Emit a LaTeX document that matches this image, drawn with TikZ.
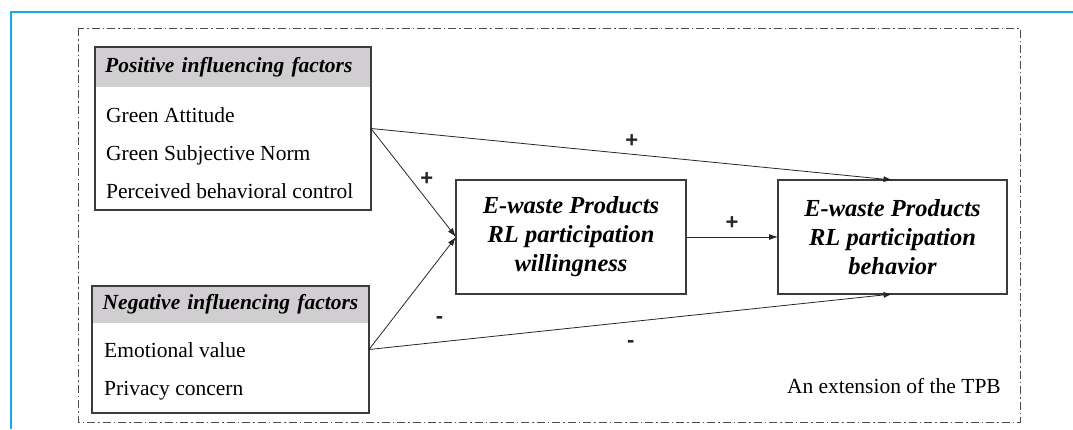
\documentclass[tikz,border=0pt]{standalone}
\usepackage{fontspec}
\setmainfont{Liberation Serif}
\newfontfamily\signfont{Liberation Sans}
\usetikzlibrary{arrows.meta}

\definecolor{framecyan}{RGB}{20,172,236}
\definecolor{headgray}{RGB}{208,206,208}
\definecolor{boxgray}{RGB}{60,60,60}

\begin{document}
\begin{tikzpicture}[
    x=1pt, y=-1pt,
    factor/.style={rectangle, draw=boxgray, line width=1.6pt, anchor=north west, inner sep=0pt, outer sep=0pt, minimum width=276},
    header/.style={rectangle, fill=headgray, anchor=north west, inner xsep=10pt, inner ysep=0pt, text width=256, align=left, minimum width=276, font=\fontsize{21.5}{25}\selectfont\bfseries\itshape},
    item/.style={anchor=base west, inner sep=0pt, font=\fontsize{21.5}{25}\selectfont},
    stage/.style={rectangle, draw=boxgray, line width=1.3pt, align=center, minimum width=230, minimum height=114, inner sep=0pt, outer sep=0pt, font=\fontsize{24.5}{29}\selectfont\bfseries\itshape},
    sign/.style={font=\fontsize{22}{24}\selectfont\signfont\bfseries},
    arrow/.style={-{Latex[length=9pt,width=6pt]}, line width=0.8pt, black!85}
]
    \useasboundingbox (0,0) rectangle (1073,429);

    % page frame and model frame
    \draw[framecyan, line width=2.6pt] (1073,12) -- (11,12) -- (11,429);
    \draw[black!70, line width=0.9pt, dash pattern=on 8pt off 3pt on 1.5pt off 3pt] (78,28) rectangle (1020,422);

    % Positive factors
    \node[header, minimum height=40] (posh) at (95,47) {Positive influencing factors};
    \node[factor, minimum height=163] (pos) at (95,47) {};
    \node[item] (ga) at (106,122) {Green Attitude};
    \node[item] (gsn) at (106,160) {Green Subjective Norm};
    \node[item] (pbc) at (106,198) {Perceived behavioral control};

    % Negative factors
    \node[header, minimum height=37, minimum width=277] (negh) at (92,286) {Negative influencing factors};
    \node[factor, minimum width=277, minimum height=127] (neg) at (92,286) {};
    \node[item] (ev) at (104,357) {Emotional value};
    \node[item] (pc) at (104,395) {Privacy concern};

    % Willingness and behavior
    \node[stage] (will) at (571,237) {E-waste Products\\RL participation\\willingness};
    \node[stage, minimum width=229] (beh) at (892.5,237) {E-waste Products\\RL participation\\behavior};

    \node[anchor=base east, inner sep=0pt, font=\fontsize{21.5}{25}\selectfont] (tpb) at (1001,393) {An extension of the TPB};

    % Paths
    \draw[arrow] (pos.east) -- node[sign, pos=0.465, right=6pt] {+} (will.west);
    \draw[arrow] (pos.east) -- node[sign, pos=0.5, above=3pt] {+} (beh.north);
    \draw[arrow] (neg.east) -- node[sign, pos=0.266, right=40pt] {-} (will.west);
    \draw[arrow] (neg.east) -- node[sign, pos=0.5, below=15pt] {-} (beh.south);
    \draw[arrow] (will) -- node[sign, above=4pt] {+} (beh);
\end{tikzpicture}
\end{document}
